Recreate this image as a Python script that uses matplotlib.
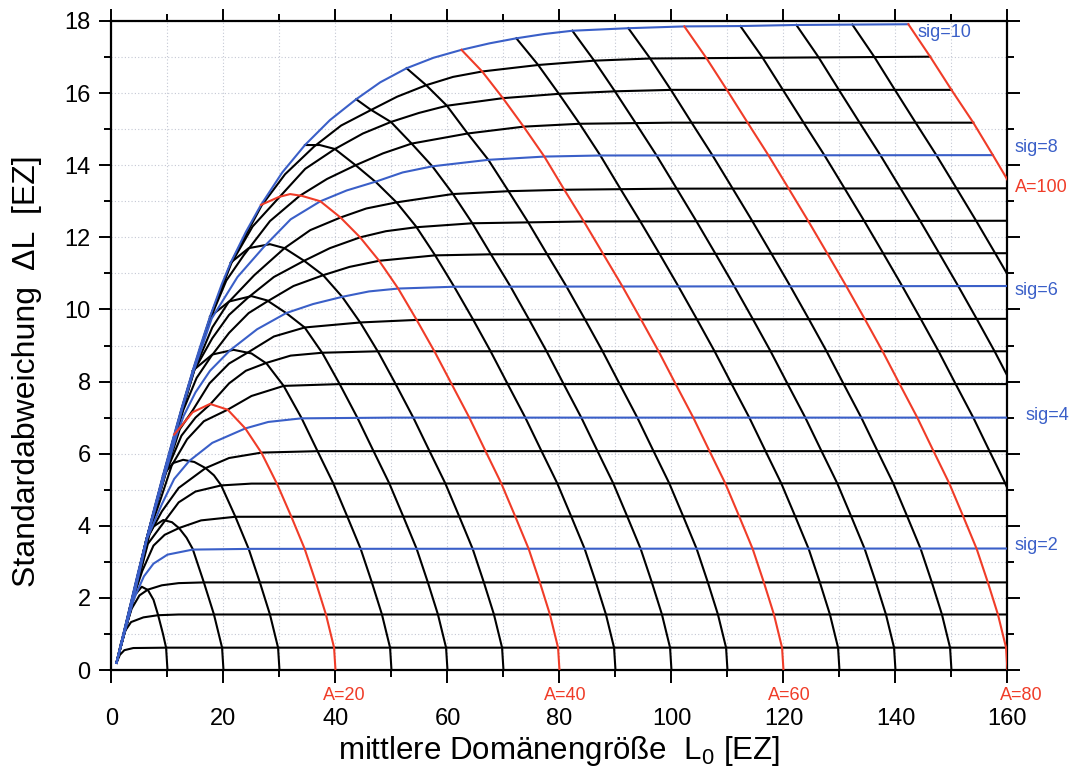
import matplotlib
matplotlib.use("Agg")
import matplotlib.pyplot as plt
from matplotlib.ticker import MultipleLocator

plt.rcParams['font.family'] = ['Liberation Sans', 'DejaVu Sans']
plt.rcParams['mathtext.fontset'] = 'custom'
plt.rcParams['mathtext.rm'] = 'Liberation Sans'

BLUE = '#3a5fc8'
RED = '#f03c28'

# --- lines of constant sig ---
sig_levels = [0.5, 1.0, 1.5, 2.0, 2.5, 3.0, 3.5, 4.0, 4.5, 5.0,
              5.5, 6.0, 6.5, 7.0, 7.5, 8.0, 8.5, 9.0, 9.5, 10.0]

sig_lines = [
    [(0.9, 0.2), (1.5, 0.42), (2.3, 0.55), (3.9, 0.61), (10, 0.62), (160, 0.62)],
    [(0.9, 0.2), (1.7, 0.75), (2.5, 1.1), (3.5, 1.33), (5.7, 1.46), (8.3, 1.52), (12, 1.54), (160, 1.54)],
    [(0.9, 0.2), (2.3, 1.05), (3.6, 1.7), (5, 2.07), (6.5, 2.23), (9, 2.35), (12, 2.41), (16.5, 2.43), (160, 2.43)],
    [(0.9, 0.2), (2.5, 1.2), (3.6, 1.8), (4.5, 2.15), (5.8, 2.6), (7.5, 2.95), (10, 3.2), (14.5, 3.34), (25, 3.36), (160, 3.37)],
    [(0.9, 0.2), (3.4, 1.78), (5.5, 2.75), (7.5, 3.45), (9.5, 3.75), (12.1, 3.94), (16, 4.15), (22.1, 4.25), (160, 4.27)],
    [(0.9, 0.2), (3.6, 1.8), (6.5, 3.5), (9.6, 4.15), (12, 4.65), (15, 4.95), (19.6, 5.12), (25, 5.17), (160, 5.18)],
    [(0.9, 0.2), (3.55, 1.72), (6.8, 3.77), (9, 4.4), (12, 5.05), (16.8, 5.6), (21, 5.88), (26.8, 6.03), (36.8, 6.07), (160, 6.07)],
    [(0.9, 0.2), (3.5, 1.7), (6.4, 3.66), (9, 4.6), (11.2, 5.3), (13.9, 5.8), (18, 6.3), (23.9, 6.7), (28, 6.88), (33.9, 6.98), (50, 7.0), (160, 7.0)],
    [(0.9, 0.2), (3.48, 1.7), (6.3, 3.63), (8.8, 4.75), (10.75, 5.67), (13.5, 6.4), (16.5, 6.9), (20.75, 7.22), (25, 7.6), (30.75, 7.88), (40.75, 7.93), (160, 7.93)],
    [(0.9, 0.2), (3.45, 1.7), (6.27, 3.61), (9.7, 5.47), (12.5, 6.5), (15, 7.0), (17.7, 7.38), (21, 7.95), (24, 8.3), (27.7, 8.52), (32, 8.72), (37.7, 8.8), (47.7, 8.84), (160, 8.84)],
    [(0.9, 0.2), (3.43, 1.7), (6.25, 3.6), (9.6, 5.42), (12.2, 6.68), (14.5, 7.2), (17.5, 7.95), (21, 8.5), (24.5, 8.82), (29, 9.25), (34.5, 9.5), (44.5, 9.64), (54.5, 9.71), (160, 9.74)],
    [(0.9, 0.2), (3.4, 1.7), (6.24, 3.6), (9.52, 5.4), (11.6, 6.5), (12.9, 7.05), (15, 7.7), (17.6, 8.3), (21.2, 8.87), (26, 9.45), (31.2, 9.9), (36, 10.15), (41.2, 10.35), (46, 10.5), (51.2, 10.58), (61.2, 10.63), (160, 10.65)],
    [(0.9, 0.2), (3.38, 1.7), (6.23, 3.6), (9.48, 5.4), (12.8, 7.2), (15.2, 8.1), (17.8, 8.7), (21, 9.35), (24.5, 9.9), (27.8, 10.22), (32.5, 10.65), (37.8, 10.95), (42.5, 11.18), (47.8, 11.35), (57.8, 11.5), (67.8, 11.53), (160, 11.56)],
    [(0.9, 0.2), (3.35, 1.7), (6.22, 3.6), (9.44, 5.4), (12.75, 7.25), (14.8, 8.32), (18, 9.2), (21, 9.85), (24.4, 10.33), (29, 10.9), (34.4, 11.35), (39, 11.7), (44.4, 12.0), (49, 12.17), (54.4, 12.28), (64.4, 12.39), (84.4, 12.44), (160, 12.46)],
    [(0.9, 0.2), (3.32, 1.7), (6.21, 3.6), (9.4, 5.4), (12.7, 7.25), (14.75, 8.3), (18, 9.5), (20.9, 10.2), (25.5, 10.95), (30.9, 11.7), (35.5, 12.2), (40.9, 12.55), (45.5, 12.8), (50.9, 12.97), (60.9, 13.2), (70.9, 13.28), (80.9, 13.32), (100, 13.35), (160, 13.36)],
    [(0.9, 0.2), (3.3, 1.7), (6.2, 3.6), (9.36, 5.4), (12.66, 7.25), (14.7, 8.3), (17.9, 9.75), (22.5, 10.9), (27.3, 11.75), (32, 12.5), (37.3, 13.0), (42, 13.3), (47.3, 13.55), (52, 13.8), (57.3, 13.97), (67.3, 14.15), (77.3, 14.24), (87.3, 14.27), (157.4, 14.28)],
    [(0.9, 0.2), (3.28, 1.7), (6.2, 3.6), (9.32, 5.4), (12.62, 7.25), (14.65, 8.3), (17.75, 9.78), (20.5, 10.8), (23.6, 11.5), (28.3, 12.45), (33.6, 13.15), (38.5, 13.62), (43.6, 14.0), (48.5, 14.33), (53.6, 14.6), (63.6, 14.88), (73.6, 15.07), (83.6, 15.15), (100, 15.18), (153.9, 15.18)],
    [(0.9, 0.2), (3.25, 1.7), (6.2, 3.6), (9.28, 5.4), (12.58, 7.25), (14.6, 8.3), (17.7, 9.8), (21.4, 11.28), (25.2, 12.3), (29.9, 13.1), (34.6, 13.9), (39.9, 14.45), (44.9, 14.88), (49.9, 15.2), (54.9, 15.45), (59.9, 15.65), (69.9, 15.86), (79.9, 15.98), (89.9, 16.05), (100, 16.09), (150, 16.09)],
    [(0.9, 0.2), (3.23, 1.7), (6.2, 3.6), (9.24, 5.4), (12.54, 7.25), (14.55, 8.3), (17.65, 9.8), (21.35, 11.3), (26.8, 12.88), (31, 13.75), (36.2, 14.52), (41, 15.1), (46.2, 15.52), (51, 15.9), (56.2, 16.22), (61, 16.45), (66.2, 16.6), (76.2, 16.78), (86.2, 16.9), (96.2, 16.96), (146.2, 17.01)],
    [(0.9, 0.2), (2.0, 0.93), (3.2, 1.7), (4.7, 2.68), (6.2, 3.6), (7.7, 4.52), (9.2, 5.4), (11.0, 6.42), (12.5, 7.25), (14.5, 8.3), (15.8, 8.95), (17.6, 9.8), (19.7, 10.7), (21.3, 11.3), (24.0, 12.15), (26.7, 12.9), (30.5, 13.8), (34.55, 14.56), (39.0, 15.25), (43.7, 15.83), (48.0, 16.3), (52.7, 16.69), (57.5, 16.98), (62.5, 17.2), (67.5, 17.38), (72.3, 17.52), (77.3, 17.64), (82.3, 17.73), (92.3, 17.8), (102.3, 17.85), (112.3, 17.86), (122.3, 17.89), (132.3, 17.9), (142.3, 17.91)],
]

# --- lines of constant A ---
A_levels = [5, 10, 15, 20, 25, 30, 35, 40, 45, 50,
            55, 60, 65, 70, 75, 80, 85, 90, 95, 100]

A_lines = [
    [(3.2, 1.7), (4.2, 2.08), (5.4, 2.31), (6.5, 2.22), (7.5, 1.95), (8.3, 1.54), (9.2, 1.0), (9.75, 0.62), (10, 0)],
    [(6.2, 3.6), (7.5, 3.98), (9.25, 4.16), (10.8, 4.1), (12.1, 3.93), (13.4, 3.67), (14.5, 3.36), (16.5, 2.43), (18.3, 1.54), (19.75, 0.62), (20, 0)],
    [(9.2, 5.4), (11, 5.74), (12.8, 5.83), (14.8, 5.77), (16.8, 5.6), (18.3, 5.4), (19.6, 5.12), (22.1, 4.26), (24.5, 3.36), (26.5, 2.43), (28.3, 1.54), (29.75, 0.62), (30, 0)],
    [(11.2, 6.53), (14.5, 7.15), (17.6, 7.38), (20.75, 7.22), (23.9, 6.7), (26.8, 6.02), (29.6, 5.15), (32.1, 4.26), (34.5, 3.36), (36.5, 2.43), (38.3, 1.54), (39.75, 0.62), (40, 0)],
    [(14.5, 8.3), (18, 8.75), (21.8, 8.88), (25, 8.78), (27.7, 8.5), (30.75, 7.88), (33.9, 7.0), (36.8, 6.07), (39.6, 5.18), (42.1, 4.26), (44.5, 3.36), (46.5, 2.43), (48.3, 1.54), (49.75, 0.62), (50, 0)],
    [(17.6, 9.8), (21, 10.22), (25, 10.37), (27.8, 10.25), (31.2, 9.9), (34.5, 9.5), (37.7, 8.78), (40.75, 7.93), (43.9, 7.0), (46.8, 6.07), (49.6, 5.18), (52.1, 4.26), (54.5, 3.36), (56.5, 2.43), (58.3, 1.54), (59.75, 0.62), (60, 0)],
    [(21.3, 11.3), (24.5, 11.7), (28.3, 11.81), (30.9, 11.7), (34.4, 11.35), (37.8, 10.95), (41.2, 10.35), (44.5, 9.62), (47.7, 8.8), (50.75, 7.93), (53.9, 7.0), (56.8, 6.07), (59.6, 5.18), (62.1, 4.26), (64.5, 3.36), (66.5, 2.43), (68.3, 1.54), (69.75, 0.62), (70, 0)],
    [(26.7, 12.9), (29.9, 13.12), (31.9, 13.2), (34, 13.15), (37.3, 13.0), (40.9, 12.55), (44.4, 12.0), (47.8, 11.35), (51.2, 10.58), (54.5, 9.71), (57.7, 8.83), (60.75, 7.93), (63.9, 7.0), (66.8, 6.07), (69.6, 5.18), (72.1, 4.26), (74.5, 3.36), (76.5, 2.43), (78.3, 1.54), (79.75, 0.62), (80, 0)],
    [(34.55, 14.56), (37.2, 14.56), (39.9, 14.45), (43.6, 14.0), (47.3, 13.52), (50.9, 12.97), (54.4, 12.3), (57.8, 11.5), (61.2, 10.63), (64.5, 9.74), (67.7, 8.84), (70.75, 7.93), (73.9, 7.0), (76.8, 6.07), (79.6, 5.18), (82.1, 4.26), (84.5, 3.36), (86.5, 2.43), (88.3, 1.54), (89.75, 0.62), (90, 0)],
    [(43.7, 15.83), (46.2, 15.55), (49.9, 15.2), (53.6, 14.6), (57.3, 13.97), (60.9, 13.22), (64.4, 12.4), (67.8, 11.52), (71.2, 10.65), (74.5, 9.74), (77.7, 8.84), (80.75, 7.93), (83.9, 7.0), (86.8, 6.07), (89.6, 5.18), (92.1, 4.26), (94.5, 3.36), (96.5, 2.43), (98.3, 1.54), (99.75, 0.62), (100, 0)],
    [(52.7, 16.69), (56.2, 16.22), (59.9, 15.65), (63.6, 14.88), (67.3, 14.15), (70.9, 13.28), (74.4, 12.42), (77.8, 11.53), (81.2, 10.65), (84.5, 9.74), (87.7, 8.84), (90.75, 7.93), (93.9, 7.0), (96.8, 6.07), (99.6, 5.18), (102.1, 4.26), (104.5, 3.36), (106.5, 2.43), (108.3, 1.54), (109.75, 0.62), (110, 0)],
    [(62.5, 17.2), (66.2, 16.6), (69.9, 15.86), (73.6, 15.07), (77.3, 14.24), (80.9, 13.31), (84.4, 12.43), (87.8, 11.54), (91.2, 10.65), (94.5, 9.74), (97.7, 8.84), (100.75, 7.93), (103.9, 7.0), (106.8, 6.07), (109.6, 5.18), (112.1, 4.26), (114.5, 3.36), (116.5, 2.43), (118.3, 1.54), (119.75, 0.62), (120, 0)],
    [(72.3, 17.52), (76.2, 16.78), (79.9, 15.98), (83.6, 15.15), (87.3, 14.27), (90.9, 13.34), (94.4, 12.45), (97.8, 11.56), (101.2, 10.65), (104.5, 9.74), (107.7, 8.84), (110.75, 7.93), (113.9, 7.0), (116.8, 6.07), (119.6, 5.18), (122.1, 4.26), (124.5, 3.36), (126.5, 2.43), (128.3, 1.54), (129.75, 0.62), (130, 0)],
    [(82.3, 17.73), (86.2, 16.9), (89.9, 16.05), (93.6, 15.17), (97.3, 14.28), (100.9, 13.36), (104.4, 12.46), (107.8, 11.56), (111.2, 10.65), (114.5, 9.74), (117.7, 8.84), (120.75, 7.93), (123.9, 7.0), (126.8, 6.07), (129.6, 5.18), (132.1, 4.26), (134.5, 3.36), (136.5, 2.43), (138.3, 1.54), (139.75, 0.62), (140, 0)],
    [(92.3, 17.8), (96.2, 16.96), (99.9, 16.09), (103.6, 15.18), (107.3, 14.28), (110.9, 13.36), (114.4, 12.46), (117.8, 11.56), (121.2, 10.65), (124.5, 9.74), (127.7, 8.84), (130.75, 7.93), (133.9, 7.0), (136.8, 6.07), (139.6, 5.18), (142.1, 4.26), (144.5, 3.36), (146.5, 2.43), (148.3, 1.54), (149.75, 0.62), (150, 0)],
    [(102.3, 17.85), (106.2, 16.98), (109.9, 16.09), (113.6, 15.18), (117.3, 14.28), (120.9, 13.36), (124.4, 12.46), (127.8, 11.56), (131.2, 10.65), (134.5, 9.74), (137.7, 8.84), (140.75, 7.93), (143.9, 7.0), (146.8, 6.07), (149.6, 5.18), (152.1, 4.26), (154.5, 3.36), (156.5, 2.43), (158.3, 1.54), (159.75, 0.62), (160, 0)],
    [(112.3, 17.86), (116.2, 17.0), (119.9, 16.09), (123.6, 15.18), (127.3, 14.28), (130.9, 13.36), (134.4, 12.46), (137.8, 11.56), (141.2, 10.65), (144.5, 9.74), (147.7, 8.84), (150.75, 7.93), (153.9, 7.0), (156.8, 6.07), (159.6, 5.18), (162.1, 4.26)],
    [(122.3, 17.89), (126.2, 17.01), (129.9, 16.09), (133.6, 15.18), (137.3, 14.28), (140.9, 13.36), (144.4, 12.46), (147.8, 11.56), (151.2, 10.65), (154.5, 9.74), (157.7, 8.84), (160.75, 7.93)],
    [(132.3, 17.9), (136.2, 17.01), (139.9, 16.09), (143.6, 15.18), (147.3, 14.28), (150.9, 13.36), (154.4, 12.46), (157.8, 11.56), (161.2, 10.65)],
    [(142.3, 17.91), (146.2, 17.01), (150.0, 16.09), (153.9, 15.18), (157.4, 14.28), (160.9, 13.36)],
]

# --- labels next to the curves ---
sig_labels = ['sig=2', 'sig=4', 'sig=6', 'sig=8', 'sig=10']
sig_label_pos = [(161.3, 3.45), (163.2, 7.07), (161.2, 10.53), (161.3, 14.48), (144.0, 17.68)]
A_labels = ['A=20', 'A=40', 'A=60', 'A=80', 'A=100']
A_label_pos = [(41.5, -0.72), (81.0, -0.72), (121.0, -0.72), (162.4, -0.72), (161.3, 13.38)]

fig = plt.figure(figsize=(10.76, 7.72), dpi=100)
ax = fig.add_axes([0.1036, 0.1321, 0.8327, 0.8407])

for s, pts in zip(sig_levels, sig_lines):
    xs = [p[0] for p in pts]
    ys = [p[1] for p in pts]
    hl = s in (2.0, 4.0, 6.0, 8.0, 10.0)
    ax.plot(xs, ys, color=BLUE if hl else 'black', lw=1.5, zorder=4 if hl else 3,
            solid_joinstyle='round')

for a, pts in zip(A_levels, A_lines):
    xs = [p[0] for p in pts]
    ys = [p[1] for p in pts]
    hl = a % 20 == 0
    ax.plot(xs, ys, color=RED if hl else 'black', lw=1.5, zorder=4 if hl else 3,
            solid_joinstyle='round')

for txt, (x, y) in zip(sig_labels, sig_label_pos):
    ax.text(x, y, txt, color=BLUE, fontsize=13, ha='left', va='center')
for txt, (x, y) in zip(A_labels, A_label_pos):
    ax.text(x, y, txt, color=RED, fontsize=13, ha='left' if txt == 'A=100' else 'center',
            va='center')

ax.set_xlim(0, 160)
ax.set_ylim(0, 18)
ax.xaxis.set_major_locator(MultipleLocator(20))
ax.xaxis.set_minor_locator(MultipleLocator(10))
ax.yaxis.set_major_locator(MultipleLocator(2))
ax.yaxis.set_minor_locator(MultipleLocator(1))

ax.grid(True, which='both', color='#c4c8d4', linestyle=(0, (1, 2)), lw=0.8, zorder=0)
ax.set_axisbelow(True)

ax.tick_params(which='both', direction='out', top=True, right=True, width=1.4, colors='black')
ax.tick_params(which='major', length=9)
ax.tick_params(which='minor', length=5)
ax.tick_params(axis='x', which='major', labelsize=17, pad=18)
ax.tick_params(axis='y', which='major', labelsize=17, pad=6)
for sp in ax.spines.values():
    sp.set_linewidth(1.6)

ax.set_xlabel(r'mittlere Domänengröße  L$_\mathrm{0}$ [EZ]', fontsize=22.5, labelpad=3)
ax.set_ylabel('Standardabweichung  \u0394L  [EZ]', fontsize=23)
ax.yaxis.set_label_coords(-0.077, 0.46)

fig.savefig('out.png', dpi=100)
